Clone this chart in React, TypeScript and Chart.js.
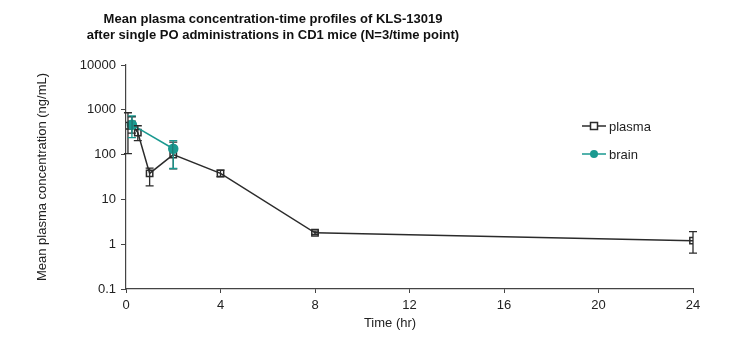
import React, { useEffect, useRef } from "react";
import { Chart, registerables } from "chart.js";

Chart.register(...registerables);

const titleLines = [
  "Mean plasma concentration-time profiles of KLS-13019",
  "after single PO administrations in CD1 mice (N=3/time point)",
];
const xTitle = "Time (hr)";
const yTitle = "Mean plasma concentration (ng/mL)";
const yTicks = [0.1, 1, 10, 100, 1000, 10000];

const plasmaTimes = [0.083, 0.25, 0.5, 1, 2, 4, 8, 24];
const plasmaMean = [440, 470, 310, 38, 100, 38, 1.8, 1.2];
const plasmaLow = [105, 300, 205, 20, 48, 32, 1.65, 0.63];
const plasmaHigh = [860, 700, 440, 50, 190, 45, 1.95, 1.9];

const brainTimes = [0.25, 2];
const brainMean = [465, 135];
const brainLow = [240, 49];
const brainHigh = [730, 205];

const PLASMA_COLOR = "#2b2b2b";
const BRAIN_COLOR = "#1a9990";
const FONT = "'Liberation Sans', Arial, sans-serif";

const errorBarPlugin = {
  id: "errorBars",
  afterDatasetsDraw(chart: any) {
    const { ctx } = chart;
    const x = chart.scales.x;
    const y = chart.scales.y;
    const dsList = chart.data.datasets;
    for (let i = dsList.length - 1; i >= 0; i--) {
      const ds: any = dsList[i];
      if (!ds.errLow) continue;
      ctx.save();
      ctx.strokeStyle = ds.borderColor;
      ctx.lineWidth = 1.3;
      ds.data.forEach((p: any, j: number) => {
        const px = x.getPixelForValue(p.x);
        const pl = y.getPixelForValue(ds.errLow[j]);
        const ph = y.getPixelForValue(ds.errHigh[j]);
        ctx.beginPath();
        ctx.moveTo(px, pl);
        ctx.lineTo(px, ph);
        ctx.moveTo(px - 4, pl);
        ctx.lineTo(px + 4, pl);
        ctx.moveTo(px - 4, ph);
        ctx.lineTo(px + 4, ph);
        ctx.stroke();
      });
      ctx.restore();
    }
  },
};

const decorPlugin = {
  id: "decor",
  afterDraw(chart: any) {
    const { ctx } = chart;
    ctx.save();
    ctx.fillStyle = "#111";
    ctx.font = `bold 13px ${FONT}`;
    ctx.textAlign = "center";
    ctx.textBaseline = "middle";
    ctx.fillText(titleLines[0], 273, 19);
    ctx.fillText(titleLines[1], 273, 35);

    // x-axis title
    ctx.font = `13px ${FONT}`;
    ctx.fillStyle = "#222";
    ctx.fillText(xTitle, 390, 323);

    // legend
    const items = [
      { label: "plasma", color: PLASMA_COLOR, y: 126, square: true },
      { label: "brain", color: BRAIN_COLOR, y: 154, square: false },
    ];
    ctx.textAlign = "left";
    items.forEach((it) => {
      ctx.strokeStyle = it.color;
      ctx.lineWidth = 1.5;
      ctx.beginPath();
      ctx.moveTo(582, it.y);
      ctx.lineTo(606, it.y);
      ctx.stroke();
      if (it.square) {
        ctx.fillStyle = "#fff";
        ctx.fillRect(590.5, it.y - 3.5, 7, 7);
        ctx.strokeRect(590.5, it.y - 3.5, 7, 7);
      } else {
        ctx.fillStyle = it.color;
        ctx.beginPath();
        ctx.arc(594, it.y, 4, 0, Math.PI * 2);
        ctx.fill();
      }
      ctx.fillStyle = "#222";
      ctx.fillText(it.label, 609, it.y + 1);
    });
    ctx.restore();
  },
};

export default function App() {
  const ref = useRef<HTMLCanvasElement | null>(null);
  useEffect(() => {
    if (!ref.current) return;
    const chart = new Chart(ref.current, {
      type: "line",
      data: {
        datasets: [
          {
            label: "brain",
            data: brainTimes.map((t, i) => ({ x: t, y: brainMean[i] })),
            borderColor: BRAIN_COLOR,
            backgroundColor: BRAIN_COLOR,
            pointBackgroundColor: BRAIN_COLOR,
            pointBorderColor: BRAIN_COLOR,
            pointStyle: "circle",
            pointRadius: 4.5,
            borderWidth: 1.5,
            tension: 0,
            order: 0,
            errLow: brainLow,
            errHigh: brainHigh,
          } as any,
          {
            label: "plasma",
            data: plasmaTimes.map((t, i) => ({ x: t, y: plasmaMean[i] })),
            borderColor: PLASMA_COLOR,
            backgroundColor: "rgba(255,255,255,0)",
            pointBackgroundColor: "rgba(255,255,255,0)",
            pointBorderColor: PLASMA_COLOR,
            pointStyle: "rect",
            pointRadius: 4.5,
            pointBorderWidth: 1.5,
            borderWidth: 1.5,
            tension: 0,
            order: 1,
            errLow: plasmaLow,
            errHigh: plasmaHigh,
          } as any,
        ],
      },
      options: {
        animation: false,
        responsive: false,
        layout: { padding: { left: 35, right: 47, top: 65, bottom: 0 } },
        plugins: {
          legend: { display: false },
          title: { display: false },
          tooltip: { enabled: false },
        },
        scales: {
          x: {
            type: "linear",
            min: 0,
            max: 24,
            ticks: {
              stepSize: 4,
              color: "#222",
              font: { family: FONT, size: 13 },
              padding: 5,
              maxRotation: 0,
            },
            grid: {
              drawOnChartArea: false,
              drawTicks: true,
              tickLength: 4,
              color: "#444",
            },
            border: { color: "#444", width: 1.2 },
            title: { display: false },
            afterFit: (s: any) => {
              s.height = 64;
            },
          },
          y: {
            type: "logarithmic",
            min: 0.1,
            max: 10000,
            afterBuildTicks: (s: any) => {
              s.ticks = yTicks.map((v) => ({ value: v }));
            },
            ticks: {
              color: "#222",
              font: { family: FONT, size: 13 },
              padding: 5,
              callback: (v: any) => String(v),
            },
            grid: {
              drawOnChartArea: false,
              drawTicks: true,
              tickLength: 5,
              color: "#444",
            },
            border: { color: "#444", width: 1.2 },
            title: {
              display: true,
              text: yTitle,
              color: "#222",
              font: { family: FONT, size: 13 },
              padding: { top: 0, bottom: 0 },
            },
            afterFit: (s: any) => {
              s.width = 91;
            },
          },
        },
      },
      plugins: [errorBarPlugin, decorPlugin],
    } as any);
    return () => chart.destroy();
  }, []);
  return (
    <div style={{ position: "fixed", left: 0, top: 0, width: 740, height: 353, background: "#fff" }}>
      <canvas ref={ref} width={740} height={353} style={{ display: "block" }} />
    </div>
  );
}
